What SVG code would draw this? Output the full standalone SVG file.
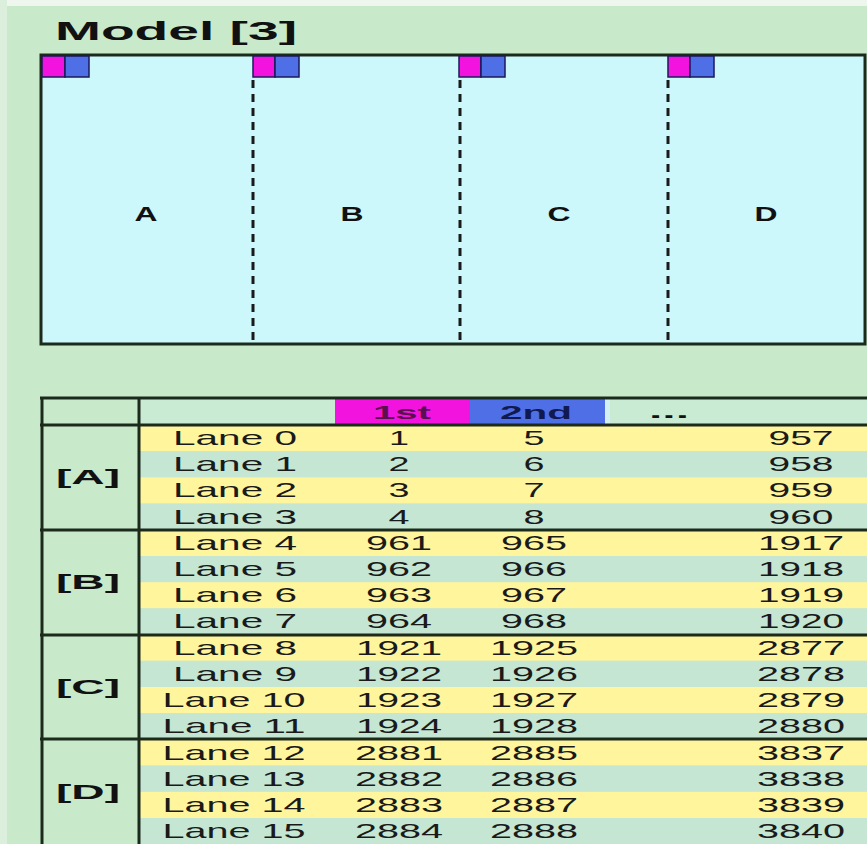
<svg xmlns="http://www.w3.org/2000/svg" width="867" height="844" viewBox="0 0 867 844">
<style>
.t{font-family:"Liberation Sans",Arial,sans-serif;font-size:21px;fill:#1a1a1a;text-anchor:middle}
.b{font-family:"Liberation Sans",Arial,sans-serif;font-weight:bold;fill:#111;text-anchor:middle}
.ye{fill:#fff59c}
.gr{fill:#c4e6d2}
.ln{stroke:#1c2a1c;stroke-width:3;fill:none}
.mg{fill:#f214de;stroke:#1a1a5a;stroke-width:1.5}
.bl{fill:#4f6fe6;stroke:#1a1a5a;stroke-width:1.5}
.dash{stroke:#1a1a1a;stroke-width:3;stroke-dasharray:8,6}
</style>
<rect width="867" height="844" fill="#c9e9cb"/>
<rect x="0" y="0" width="867" height="6" fill="#eef6ee"/>
<rect x="0" y="0" width="7" height="844" fill="#dcefdc"/>
<text class="b" x="55" y="40" font-size="25" style="text-anchor:start" textLength="242" lengthAdjust="spacingAndGlyphs">Model [3]</text>
<g id="model">
<rect x="41" y="55" width="824" height="289" fill="#ccf7fb" stroke="#1c2a1c" stroke-width="3"/>
<line class="dash" x1="253" y1="80" x2="253" y2="344"/>
<line class="dash" x1="460" y1="80" x2="460" y2="344"/>
<line class="dash" x1="668" y1="80" x2="668" y2="344"/>
</g>
<g id="A"><rect class="mg" x="42" y="56" width="23" height="21"/><rect class="bl" x="65" y="56" width="24" height="21"/><text class="b" x="146" y="221" font-size="21" textLength="23" lengthAdjust="spacingAndGlyphs">A</text></g>
<g id="B"><rect class="mg" x="253" y="56" width="22" height="21"/><rect class="bl" x="275" y="56" width="24" height="21"/><text class="b" x="352" y="221" font-size="21" textLength="23" lengthAdjust="spacingAndGlyphs">B</text></g>
<g id="C"><rect class="mg" x="459" y="56" width="22" height="21"/><rect class="bl" x="481" y="56" width="24" height="21"/><text class="b" x="559" y="221" font-size="21" textLength="23" lengthAdjust="spacingAndGlyphs">C</text></g>
<g id="D"><rect class="mg" x="668" y="56" width="22" height="21"/><rect class="bl" x="690" y="56" width="24" height="21"/><text class="b" x="766" y="221" font-size="21" textLength="23" lengthAdjust="spacingAndGlyphs">D</text></g>
<g id="table">
<rect x="140" y="399" width="727" height="26" fill="#c9ebd4"/>
<rect x="335" y="399" width="135" height="25" fill="#f214de"/>
<rect x="470" y="399" width="135" height="25" fill="#4f6fe6"/>
<rect x="605" y="399" width="5" height="25" fill="#d4f0f4"/>
<text class="b" x="402" y="419" font-size="19" style="fill:#5a1050" textLength="58" lengthAdjust="spacingAndGlyphs">1st</text>
<text class="b" x="536" y="419" font-size="19" style="fill:#101a50" textLength="72" lengthAdjust="spacingAndGlyphs">2nd</text>
<text class="b" x="669" y="418" font-size="19" textLength="40" lengthAdjust="spacingAndGlyphs">...</text>
<rect class="ye" x="140" y="425" width="727" height="26.2"/>
<rect class="gr" x="140" y="451.2" width="727" height="26.2"/>
<rect class="ye" x="140" y="477.4" width="727" height="26.2"/>
<rect class="gr" x="140" y="503.6" width="727" height="26.2"/>
<rect class="ye" x="140" y="529.8" width="727" height="26.2"/>
<rect class="gr" x="140" y="556" width="727" height="26.2"/>
<rect class="ye" x="140" y="582.2" width="727" height="26.2"/>
<rect class="gr" x="140" y="608.4" width="727" height="26.2"/>
<rect class="ye" x="140" y="634.6" width="727" height="26.2"/>
<rect class="gr" x="140" y="660.8" width="727" height="26.2"/>
<rect class="ye" x="140" y="687" width="727" height="26.2"/>
<rect class="gr" x="140" y="713.2" width="727" height="26.2"/>
<rect class="ye" x="140" y="739.4" width="727" height="26.2"/>
<rect class="gr" x="140" y="765.6" width="727" height="26.2"/>
<rect class="ye" x="140" y="791.8" width="727" height="26.2"/>
<rect class="gr" x="140" y="818" width="727" height="26.2"/>
<line class="ln" x1="40" y1="398" x2="867" y2="398"/>
<line class="ln" x1="40" y1="425" x2="867" y2="425"/>
<line class="ln" x1="40" y1="530" x2="867" y2="530"/>
<line class="ln" x1="40" y1="635" x2="867" y2="635"/>
<line class="ln" x1="40" y1="739" x2="867" y2="739"/>
<line class="ln" x1="42" y1="397" x2="42" y2="844"/>
<line class="ln" x1="139" y1="397" x2="139" y2="844"/>
<text class="b" x="88" y="484" font-size="20" textLength="64" lengthAdjust="spacingAndGlyphs">[A]</text>
<text class="b" x="88" y="589" font-size="20" textLength="64" lengthAdjust="spacingAndGlyphs">[B]</text>
<text class="b" x="88" y="694" font-size="20" textLength="64" lengthAdjust="spacingAndGlyphs">[C]</text>
<text class="b" x="88" y="799" font-size="20" textLength="64" lengthAdjust="spacingAndGlyphs">[D]</text>
<g class="rows">
<text class="t" x="235" y="445" textLength="124" lengthAdjust="spacingAndGlyphs">Lane 0</text><text class="t" x="399" y="445" textLength="20" lengthAdjust="spacingAndGlyphs">1</text><text class="t" x="534" y="445" textLength="21" lengthAdjust="spacingAndGlyphs">5</text><text class="t" x="801" y="445" textLength="65" lengthAdjust="spacingAndGlyphs">957</text>
<text class="t" x="235" y="471" textLength="124" lengthAdjust="spacingAndGlyphs">Lane 1</text><text class="t" x="399" y="471" textLength="21" lengthAdjust="spacingAndGlyphs">2</text><text class="t" x="534" y="471" textLength="21" lengthAdjust="spacingAndGlyphs">6</text><text class="t" x="801" y="471" textLength="65" lengthAdjust="spacingAndGlyphs">958</text>
<text class="t" x="235" y="497" textLength="124" lengthAdjust="spacingAndGlyphs">Lane 2</text><text class="t" x="399" y="497" textLength="21" lengthAdjust="spacingAndGlyphs">3</text><text class="t" x="534" y="497" textLength="21" lengthAdjust="spacingAndGlyphs">7</text><text class="t" x="801" y="497" textLength="65" lengthAdjust="spacingAndGlyphs">959</text>
<text class="t" x="235" y="524" textLength="124" lengthAdjust="spacingAndGlyphs">Lane 3</text><text class="t" x="399" y="524" textLength="21" lengthAdjust="spacingAndGlyphs">4</text><text class="t" x="534" y="524" textLength="21" lengthAdjust="spacingAndGlyphs">8</text><text class="t" x="801" y="524" textLength="65" lengthAdjust="spacingAndGlyphs">960</text>
<text class="t" x="235" y="550" textLength="124" lengthAdjust="spacingAndGlyphs">Lane 4</text><text class="t" x="399" y="550" textLength="66" lengthAdjust="spacingAndGlyphs">961</text><text class="t" x="534" y="550" textLength="66" lengthAdjust="spacingAndGlyphs">965</text><text class="t" x="801" y="550" textLength="86" lengthAdjust="spacingAndGlyphs">1917</text>
<text class="t" x="235" y="576" textLength="124" lengthAdjust="spacingAndGlyphs">Lane 5</text><text class="t" x="399" y="576" textLength="66" lengthAdjust="spacingAndGlyphs">962</text><text class="t" x="534" y="576" textLength="66" lengthAdjust="spacingAndGlyphs">966</text><text class="t" x="801" y="576" textLength="86" lengthAdjust="spacingAndGlyphs">1918</text>
<text class="t" x="235" y="602" textLength="124" lengthAdjust="spacingAndGlyphs">Lane 6</text><text class="t" x="399" y="602" textLength="66" lengthAdjust="spacingAndGlyphs">963</text><text class="t" x="534" y="602" textLength="66" lengthAdjust="spacingAndGlyphs">967</text><text class="t" x="801" y="602" textLength="86" lengthAdjust="spacingAndGlyphs">1919</text>
<text class="t" x="235" y="628" textLength="124" lengthAdjust="spacingAndGlyphs">Lane 7</text><text class="t" x="399" y="628" textLength="66" lengthAdjust="spacingAndGlyphs">964</text><text class="t" x="534" y="628" textLength="66" lengthAdjust="spacingAndGlyphs">968</text><text class="t" x="801" y="628" textLength="86" lengthAdjust="spacingAndGlyphs">1920</text>
<text class="t" x="235" y="655" textLength="124" lengthAdjust="spacingAndGlyphs">Lane 8</text><text class="t" x="399" y="655" textLength="86" lengthAdjust="spacingAndGlyphs">1921</text><text class="t" x="534" y="655" textLength="88" lengthAdjust="spacingAndGlyphs">1925</text><text class="t" x="801" y="655" textLength="88" lengthAdjust="spacingAndGlyphs">2877</text>
<text class="t" x="235" y="681" textLength="124" lengthAdjust="spacingAndGlyphs">Lane 9</text><text class="t" x="399" y="681" textLength="86" lengthAdjust="spacingAndGlyphs">1922</text><text class="t" x="534" y="681" textLength="88" lengthAdjust="spacingAndGlyphs">1926</text><text class="t" x="801" y="681" textLength="88" lengthAdjust="spacingAndGlyphs">2878</text>
<text class="t" x="234" y="707" textLength="143" lengthAdjust="spacingAndGlyphs">Lane 10</text><text class="t" x="399" y="707" textLength="86" lengthAdjust="spacingAndGlyphs">1923</text><text class="t" x="534" y="707" textLength="88" lengthAdjust="spacingAndGlyphs">1927</text><text class="t" x="801" y="707" textLength="88" lengthAdjust="spacingAndGlyphs">2879</text>
<text class="t" x="234" y="733" textLength="143" lengthAdjust="spacingAndGlyphs">Lane 11</text><text class="t" x="399" y="733" textLength="86" lengthAdjust="spacingAndGlyphs">1924</text><text class="t" x="534" y="733" textLength="88" lengthAdjust="spacingAndGlyphs">1928</text><text class="t" x="801" y="733" textLength="88" lengthAdjust="spacingAndGlyphs">2880</text>
<text class="t" x="234" y="760" textLength="143" lengthAdjust="spacingAndGlyphs">Lane 12</text><text class="t" x="399" y="760" textLength="88" lengthAdjust="spacingAndGlyphs">2881</text><text class="t" x="534" y="760" textLength="88" lengthAdjust="spacingAndGlyphs">2885</text><text class="t" x="801" y="760" textLength="88" lengthAdjust="spacingAndGlyphs">3837</text>
<text class="t" x="234" y="786" textLength="143" lengthAdjust="spacingAndGlyphs">Lane 13</text><text class="t" x="399" y="786" textLength="88" lengthAdjust="spacingAndGlyphs">2882</text><text class="t" x="534" y="786" textLength="88" lengthAdjust="spacingAndGlyphs">2886</text><text class="t" x="801" y="786" textLength="88" lengthAdjust="spacingAndGlyphs">3838</text>
<text class="t" x="234" y="812" textLength="143" lengthAdjust="spacingAndGlyphs">Lane 14</text><text class="t" x="399" y="812" textLength="88" lengthAdjust="spacingAndGlyphs">2883</text><text class="t" x="534" y="812" textLength="88" lengthAdjust="spacingAndGlyphs">2887</text><text class="t" x="801" y="812" textLength="88" lengthAdjust="spacingAndGlyphs">3839</text>
<text class="t" x="234" y="838" textLength="143" lengthAdjust="spacingAndGlyphs">Lane 15</text><text class="t" x="399" y="838" textLength="88" lengthAdjust="spacingAndGlyphs">2884</text><text class="t" x="534" y="838" textLength="88" lengthAdjust="spacingAndGlyphs">2888</text><text class="t" x="801" y="838" textLength="88" lengthAdjust="spacingAndGlyphs">3840</text>
</g>
</g>
</svg>
